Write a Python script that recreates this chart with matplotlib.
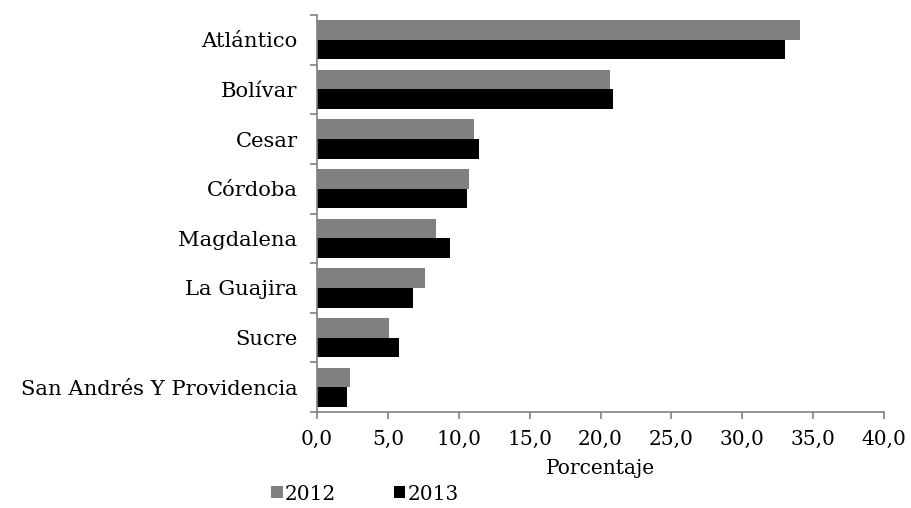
import numpy as np
import matplotlib.pyplot as plt
from matplotlib.ticker import FuncFormatter

departamentos = ["Atlántico", "Bolívar", "Cesar", "Córdoba", "Magdalena",
                 "La Guajira", "Sucre", "San Andrés Y Providencia"]
valores_2012 = [34.1, 20.7, 11.1, 10.7, 8.4, 7.6, 5.1, 2.3]
valores_2013 = [33.0, 20.9, 11.4, 10.6, 9.4, 6.8, 5.8, 2.1]

plt.rcParams['font.family'] = ['DejaVu Serif']
fs = 14.5

fig = plt.figure(figsize=(9.12, 5.08), dpi=100)
ax = fig.add_axes([317/912, 1 - 412/508, 567/912, 397/508])

y = np.arange(len(departamentos))
h = 0.395
ax.barh(y - h/2, valores_2012, height=h, color='#808080', label='2012')
ax.barh(y + h/2, valores_2013, height=h, color='#000000', label='2013')

ax.set_ylim(len(departamentos) - 0.5, -0.5)
ax.set_xlim(0, 40)
ax.set_xticks(np.arange(0, 41, 5))
ax.xaxis.set_major_formatter(FuncFormatter(lambda v, p: f"{v:.1f}".replace('.', ',')))

# category labels between boundary ticks, Excel style
ax.set_yticks(np.arange(-0.5, len(departamentos), 1))
ax.set_yticklabels([])
ax.set_yticks(y, minor=True)
ax.set_yticklabels(departamentos, minor=True, fontsize=15.2)
ax.tick_params(axis='y', which='minor', length=0, pad=14)
ax.tick_params(axis='y', which='major', length=5, color='#808080', width=1.2)
ax.tick_params(axis='x', length=5, color='#808080', width=1.2, pad=8, labelsize=fs)

for s in ['top', 'right']:
    ax.spines[s].set_visible(False)
for s in ['left', 'bottom']:
    ax.spines[s].set_color('#808080')
    ax.spines[s].set_linewidth(1.2)

ax.set_xlabel('Porcentaje', fontsize=fs, labelpad=7)

fig.legend(loc='center', bbox_to_anchor=(365/912, 1 - 494/508), ncol=2,
           frameon=False, fontsize=fs, handlelength=0.55, handleheight=0.55,
           handletextpad=0.1, columnspacing=2.9, borderpad=0)

fig.savefig('out.png', dpi=100)
